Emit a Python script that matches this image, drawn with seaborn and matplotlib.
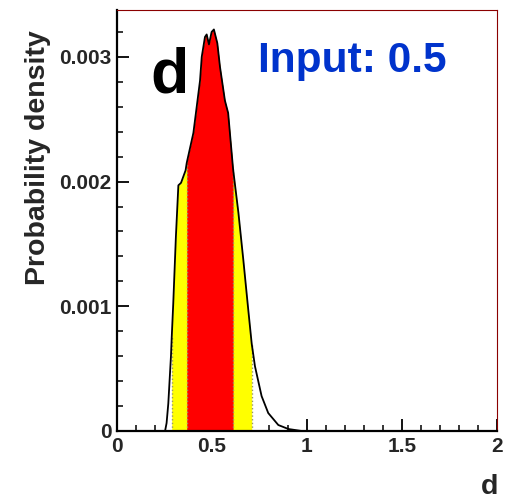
import numpy as np
import pandas as pd
import matplotlib
matplotlib.use("Agg")
import matplotlib.pyplot as plt
from matplotlib.ticker import MultipleLocator, FixedLocator, FixedFormatter
import seaborn as sns

# ---- data ----
d_values = [0.0, 0.253, 0.261, 0.270, 0.284, 0.288, 0.296, 0.310, 0.323, 0.337,
            0.349, 0.361, 0.367, 0.402, 0.437, 0.446, 0.463, 0.472, 0.484, 0.498,
            0.510, 0.528, 0.542, 0.568, 0.585, 0.611, 0.639, 0.665, 0.691, 0.709,
            0.726, 0.761, 0.796, 0.849, 0.902, 0.972, 2.0]
density = [0.0, 0.0, 0.000064, 0.00022, 0.00060, 0.00075, 0.00102, 0.00156, 0.00197, 0.00199,
           0.00204, 0.00209, 0.00215, 0.00239, 0.00281, 0.00300, 0.00316, 0.00318, 0.00310, 0.00320,
           0.00322, 0.00311, 0.00292, 0.00265, 0.00255, 0.00210, 0.00175, 0.00137, 0.00097, 0.00070,
           0.00052, 0.00028, 0.000144, 0.000048, 0.000016, 0.0, 0.0]
band95 = [0.288, 0.709]
band68 = [0.367, 0.611]
x_ticks = [0, 0.5, 1, 1.5, 2]
x_tick_labels = ["0", "0.5", "1", "1.5", "2"]
y_ticks = [0, 0.001, 0.002, 0.003]
y_tick_labels = ["0", "0.001", "0.002", "0.003"]
panel_label = "d"
input_label = "Input: 0.5"
x_label = "d"
y_label = "Probability density"

df = pd.DataFrame({"d": d_values, "density": density})

sns.set_style("white")
plt.rcParams["font.family"] = ["Liberation Sans", "DejaVu Sans"]
plt.rcParams["font.weight"] = "bold"

fig = plt.figure(figsize=(5.06, 5.01), dpi=100)
ax = fig.add_axes([117 / 506, 1 - 431 / 501, 380 / 506, 421 / 501])

x = df["d"].to_numpy()
y = df["density"].to_numpy()
m95 = (x >= band95[0]) & (x <= band95[1])
m68 = (x >= band68[0]) & (x <= band68[1])
ax.fill_between(x, 0, y, where=m95, color="#ffff00", linewidth=0, zorder=1)
ax.fill_between(x, 0, y, where=m68, color="#ff0000", linewidth=0, zorder=2)
for b in band95 + band68:
    i = d_values.index(b)
    ax.vlines(b, 0, density[i], colors="#999966", linestyles=":", linewidth=1, zorder=3)

sns.lineplot(data=df, x="d", y="density", ax=ax, color="black", linewidth=1.3,
             estimator=None, sort=False, zorder=4)

ax.set_xlim(0, 2)
ax.set_ylim(0, 0.003376)
ax.set_xlabel("")
ax.set_ylabel("")

ax.xaxis.set_major_locator(FixedLocator(x_ticks))
ax.xaxis.set_major_formatter(FixedFormatter(x_tick_labels))
ax.xaxis.set_minor_locator(MultipleLocator(0.1))
ax.yaxis.set_major_locator(FixedLocator(y_ticks))
ax.yaxis.set_major_formatter(FixedFormatter(y_tick_labels))
ax.yaxis.set_minor_locator(MultipleLocator(0.0002))

ax.tick_params(which="major", direction="in", length=8.5, width=1.3, color="black",
               labelsize=15, pad=4)
ax.tick_params(which="minor", direction="in", length=4.5, width=1.1, color="black")
ax.tick_params(axis="y", which="both", left=True, right=False)
ax.tick_params(axis="x", which="both", bottom=True, top=False)
for lab in ax.get_xticklabels() + ax.get_yticklabels():
    lab.set_fontweight("bold")

for s in ["left", "bottom"]:
    ax.spines[s].set_color("black")
    ax.spines[s].set_linewidth(1.6)
for s in ["top", "right"]:
    ax.spines[s].set_color("#8b0000")
    ax.spines[s].set_linewidth(0.8)
for s in ax.spines.values():
    s.set_zorder(5)

ax.text(0.087, 0.805, panel_label, transform=ax.transAxes, fontsize=45,
        fontweight="bold", color="black", ha="left", va="baseline")
ax.text(0.371, 0.853, input_label, transform=ax.transAxes, fontsize=30.5,
        fontweight="bold", color="#0033cc", ha="left", va="baseline")

fig.text(38 / 506, 1 - 157.5 / 501, y_label, rotation=90, ha="center", va="center",
         fontsize=20.5, fontweight="bold")
fig.text(498 / 506, 1.5 / 501, x_label, ha="right", va="bottom",
         fontsize=20.5, fontweight="bold")

fig.savefig("out.png", dpi=100)
